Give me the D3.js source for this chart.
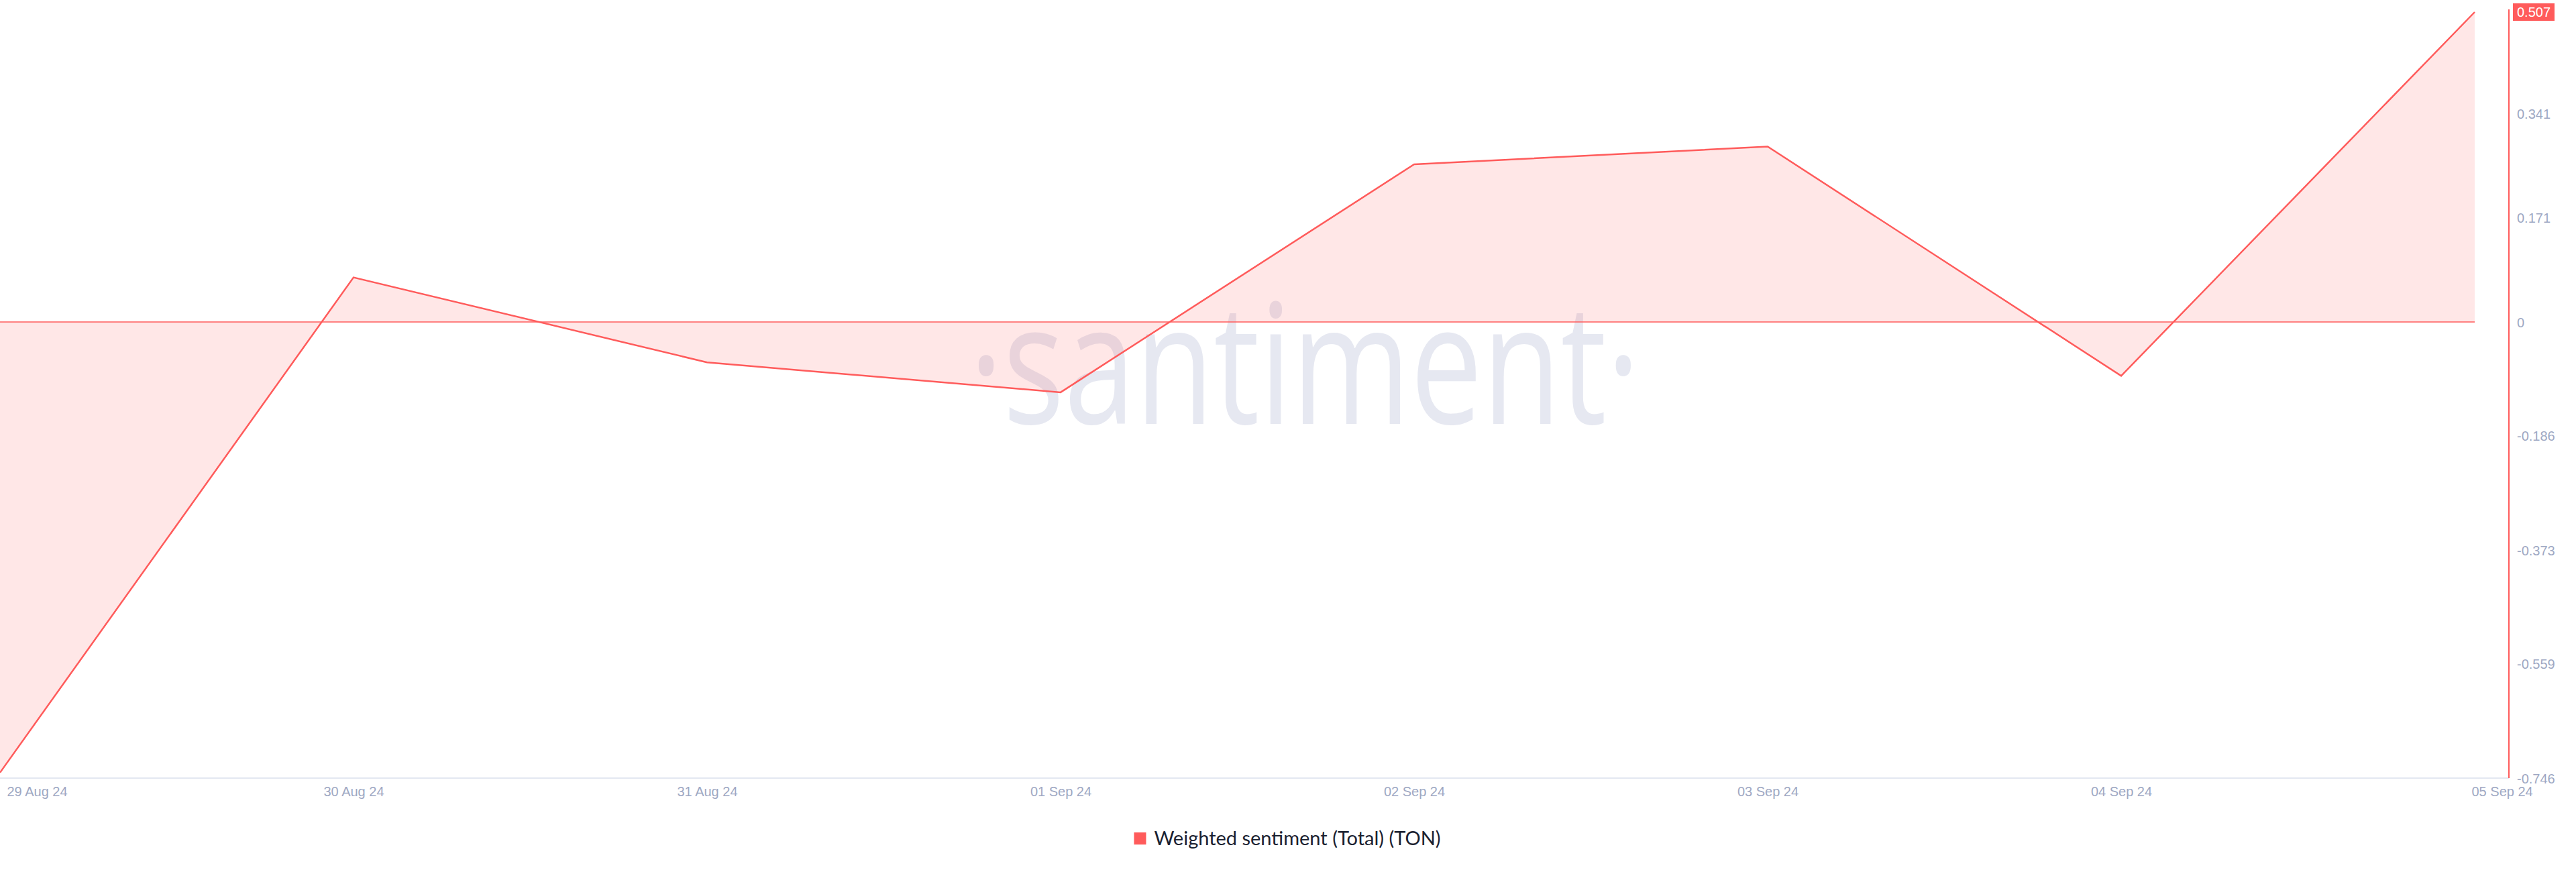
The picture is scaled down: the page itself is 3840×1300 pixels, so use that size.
<!DOCTYPE html>
<html>
<head>
<meta charset="utf-8">
<script src="https://cdn.jsdelivr.net/npm/d3@7"></script>
<style>
  html, body { margin: 0; padding: 0; background: #ffffff; }
  svg { display: block; }
</style>
</head>
<body>
<svg id="chart" width="3840" height="1300"></svg>
<script>
const dates = ["29 Aug 24", "30 Aug 24", "31 Aug 24", "01 Sep 24", "02 Sep 24", "03 Sep 24", "04 Sep 24", "05 Sep 24"];
const sentiment = [-0.737, 0.073, -0.066, -0.115, 0.258, 0.287, -0.088, 0.507];
const yTicks = [0.341, 0.171, 0, -0.186, -0.373, -0.559, -0.746];
const yMin = -0.746, yMax = 0.507;
const seriesName = "Weighted sentiment (Total) (TON)";

const red = "#ff5b5b";
const labelColor = "#9ea8c3";

const svg = d3.select("#chart");
const plotLeft = 0, plotRight = 3689, axisX = 3740;
const plotTop = 18, plotBottom = 1160;

const x = d3.scalePoint().domain(dates).range([plotLeft, plotRight]);
const y = d3.scaleLinear().domain([yMin, yMax]).range([plotBottom, plotTop]);

const data = dates.map((d, i) => ({ d, v: sentiment[i] }));
const fmt = v => String(v);

// watermark
svg.append("text")
  .attr("x", 1945).attr("y", 632)
  .attr("text-anchor", "middle")
  .attr("font-family", "Open Sans")
  .attr("font-size", 250)
  .attr("textLength", 1000)
  .attr("lengthAdjust", "spacingAndGlyphs")
  .attr("fill", "#e6e8f1")
  .text("·santiment·");

// area fill to zero
const area = d3.area()
  .x(p => x(p.d))
  .y0(y(0))
  .y1(p => y(p.v));
svg.append("path")
  .datum(data)
  .attr("d", area)
  .attr("fill", red)
  .attr("fill-opacity", 0.15);

// zero line
svg.append("line")
  .attr("x1", plotLeft).attr("x2", plotRight)
  .attr("y1", y(0)).attr("y2", y(0))
  .attr("stroke", red).attr("stroke-width", 1.5);

// line
const line = d3.line().x(p => x(p.d)).y(p => y(p.v));
svg.append("path")
  .datum(data)
  .attr("d", line)
  .attr("fill", "none")
  .attr("stroke", red)
  .attr("stroke-width", 2.5)
  .attr("stroke-linejoin", "miter");

// bottom axis line
svg.append("line")
  .attr("x1", 0).attr("x2", axisX)
  .attr("y1", plotBottom).attr("y2", plotBottom)
  .attr("stroke", "#e3e7f1").attr("stroke-width", 2);

// right axis line
svg.append("line")
  .attr("x1", axisX).attr("x2", axisX)
  .attr("y1", 14).attr("y2", plotBottom)
  .attr("stroke", red).attr("stroke-width", 2);

// y tick labels
const yAxis = d3.axisRight(y).tickValues(yTicks).tickSize(0).tickPadding(0)
  .tickFormat(fmt);
const ya = svg.append("g")
  .attr("transform", `translate(${axisX + 12},0)`)
  .call(yAxis);
ya.select(".domain").remove();
ya.selectAll("text")
  .attr("font-family", "Liberation Sans, Arial, sans-serif")
  .attr("font-size", 20)
  .attr("fill", labelColor)
  .attr("dy", "0.35em");

// last value badge
const lastV = sentiment[sentiment.length - 1];
svg.append("rect")
  .attr("x", axisX + 6).attr("y", y(lastV) - 13)
  .attr("width", 62).attr("height", 26)
  .attr("fill", red);
svg.append("text")
  .attr("x", axisX + 37).attr("y", y(lastV))
  .attr("dy", "0.36em")
  .attr("text-anchor", "middle")
  .attr("font-family", "Liberation Sans, Arial, sans-serif")
  .attr("font-size", 20)
  .attr("fill", "#ffffff")
  .text(fmt(lastV));

// x tick labels
const xAxis = d3.axisBottom(x).tickSize(0).tickPadding(0);
const xa = svg.append("g")
  .attr("transform", `translate(0,${plotBottom})`)
  .call(xAxis);
xa.select(".domain").remove();
xa.selectAll("text")
  .attr("font-family", "Liberation Sans, Arial, sans-serif")
  .attr("font-size", 20)
  .attr("fill", labelColor)
  .attr("y", 27)
  .attr("dy", 0)
  .attr("text-anchor", (d, i) => i === 0 ? "start" : (i === dates.length - 1 ? "start" : "middle"))
  .attr("dx", (d, i) => i === 0 ? 10 : (i === dates.length - 1 ? -5 : 0));

// legend
const lg = svg.append("g").attr("transform", "translate(1919,1250)");
const lt = lg.append("text")
  .attr("x", 12).attr("y", 0)
  .attr("dy", "0.35em")
  .attr("font-family", "Lato, 'Open Sans', sans-serif")
  .attr("font-size", 29)
  .attr("fill", "#1a2130")
  .text(seriesName);
const tw = lt.node().getComputedTextLength();
const total = 18 + 12 + tw;
lt.attr("x", -total / 2 + 30);
lg.append("rect")
  .attr("x", -total / 2).attr("y", -9)
  .attr("width", 18).attr("height", 18)
  .attr("fill", red);
</script>
</body>
</html>
